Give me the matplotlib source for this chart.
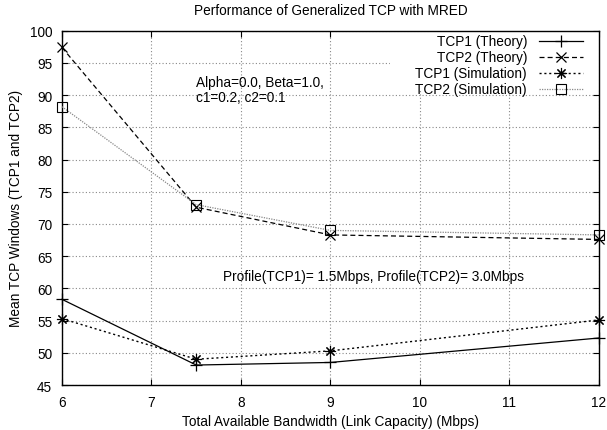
import numpy as np
import matplotlib
matplotlib.use('Agg')
import matplotlib.pyplot as plt
from matplotlib.patches import Rectangle

plt.rcParams['font.family'] = ['Liberation Sans', 'DejaVu Sans']
plt.rcParams['font.size'] = 9.8

# link capacity (Mbps)
bw = [6, 7.5, 9, 12]

# mean windows
tcp1_theory = [58.3, 48.1, 48.5, 52.3]
tcp2_theory = [97.4, 72.6, 68.3, 67.6]
tcp1_sim = [55.3, 49.0, 50.3, 55.1]
tcp2_sim = [88.2, 73.0, 69.0, 68.3]

fig = plt.figure(figsize=(6.07, 4.31), dpi=100)
ax = fig.add_axes([0.1021, 0.1044, 0.8847, 0.822])

ax.plot(bw, tcp1_theory, '-', color='black', lw=0.9, marker='+', ms=9,
        mew=0.9, label='TCP1 (Theory)', clip_on=False, zorder=3)
ax.plot(bw, tcp2_theory, '--', color='black', lw=0.9, dashes=(4, 2.5),
        marker='x', ms=7, mew=0.9, label='TCP2 (Theory)', clip_on=False, zorder=3)
ax.plot(bw, tcp1_sim, ':', color='black', lw=1.0, dashes=(1.5, 2),
        marker=(8, 2, 0), ms=8, mew=0.8, label='TCP1 (Simulation)', clip_on=False, zorder=3)
ax.plot(bw, tcp2_sim, ':', color='#888888', lw=0.9, dashes=(1, 1),
        marker='s', ms=7, mfc='none', mec='black', mew=0.8,
        label='TCP2 (Simulation)', clip_on=False, zorder=3)

ax.set_xlim(6, 12)
ax.set_ylim(45, 100)
ax.set_xticks(np.arange(6, 13, 1))
ax.set_yticks(np.arange(45, 101, 5))
ax.tick_params(direction='in', top=True, right=True, length=4, width=0.8, pad=7)
ax.grid(True, color='#888888', ls=(0, (1, 2)), lw=0.8)
for s in ax.spines.values():
    s.set_linewidth(1.0)

# white box behind the key, hides grid like gnuplot
ax.add_patch(Rectangle((0.611, 0.83), 0.389, 0.17, transform=ax.transAxes,
                       facecolor='white', edgecolor='none', zorder=1.6))

ax.legend(loc='upper right', bbox_to_anchor=(0.97, 0.99), frameon=False,
          markerfirst=False, handlelength=3.2, handletextpad=0.9,
          labelspacing=0.15, borderpad=0, borderaxespad=0, numpoints=1)

ax.text(7.5, 90.9, 'Alpha=0.0, Beta=1.0,\nc1=0.2, c2=0.1', ha='left', va='center',
        linespacing=1.05)
ax.text(7.8, 61.9, 'Profile(TCP1)= 1.5Mbps, Profile(TCP2)= 3.0Mbps', ha='left', va='center')

ax.set_xlabel('Total Available Bandwidth (Link Capacity) (Mbps)', labelpad=4)
ax.set_ylabel('Mean TCP Windows (TCP1 and TCP2)', labelpad=5)
fig.text(0.545, 1 - 11 / 431, 'Performance of Generalized TCP with MRED',
         ha='center', va='center')

fig.savefig('out.png', dpi=100)
